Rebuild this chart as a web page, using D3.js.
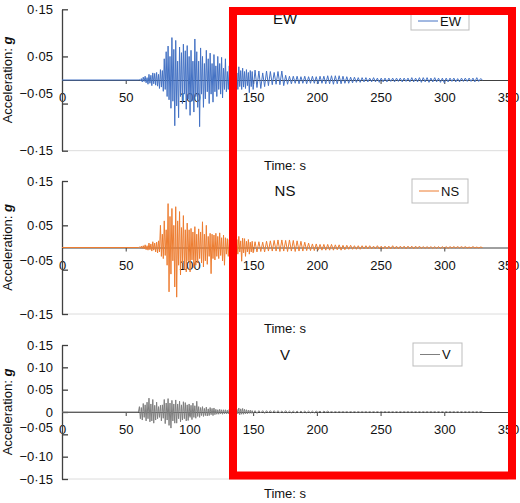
<!DOCTYPE html>
<html>
<head>
<meta charset="utf-8">
<script src="https://cdn.jsdelivr.net/npm/d3@7"></script>
<style>
    body { margin: 0; background: #fff; }
    svg { display: block; font-family: "Liberation Sans", Arial, sans-serif; }
</style>
</head>
<body>
<div id="chart"></div>
<script>
// digitised records (g). Flat before 60 s.
// strong-motion part: every 0.75 s from 60 s to 150 s
// coda: every 1.5 s from 151.5 s to 330 s
const STRONG_START = 60, STRONG_STEP = 0.75;
const CODA_START = 151.5, CODA_STEP = 1.5;

const ewStrong = [
    0, 0.001, -0.002, 0.003, -0.004, 0.006, -0.003, 0.008, -0.006, 0.005,            // 60 s
    -0.009, 0.012, -0.007, 0.010, -0.012, 0.015, -0.008, 0.014, -0.011, 0.016,       // 67.5 s
    -0.013, 0.012, -0.018, 0.022, -0.015, 0.020, -0.024, 0.045, -0.020, 0.060,       // 75 s
    -0.035, 0.072, -0.042, 0.050, -0.060, 0.090, -0.045, 0.065, -0.097, 0.084,       // 82.5 s
    -0.055, 0.040, -0.080, 0.070, -0.035, 0.058, -0.050, 0.076, -0.030, 0.062,       // 90 s
    -0.062, 0.073, -0.040, 0.050, -0.075, 0.063, -0.045, 0.040, -0.068, 0.087,       // 97.5 s
    -0.035, 0.060, -0.058, 0.040, -0.099, 0.068, -0.030, 0.050, -0.058, 0.035,       // 105 s
    -0.040, 0.063, -0.025, 0.045, -0.050, 0.057, -0.030, 0.035, -0.047, 0.054,       // 112.5 s
    -0.025, 0.030, -0.035, 0.050, -0.020, 0.035, -0.030, 0.048, -0.038, 0.025,       // 120 s
    -0.020, 0.045, -0.025, 0.018, -0.020, 0.030, -0.015, 0.024, -0.028, 0.020,       // 127.5 s
    -0.018, 0.034, -0.022, 0.015, -0.020, 0.028, -0.014, 0.020, -0.020, 0.025,       // 135 s
    -0.015, 0.018, -0.018, 0.022, -0.012, 0.016, -0.027, 0.020, -0.014, 0.018,       // 142.5 s
    -0.020
];
const ewCoda = [
    0.021, -0.016, 0.019, -0.018, 0.015, -0.014, 0.019, -0.012, 0.018,                // 151.5 s
    -0.010, 0.016, -0.009, 0.018, -0.010, 0.019, -0.012, 0.010, -0.009, 0.008,       // 165 s
    -0.008, 0.008, -0.007, 0.008, -0.008, 0.007, -0.007, 0.008, -0.008, 0.007,       // 180 s
    -0.007, 0.008, -0.007, 0.007, -0.008, 0.008, -0.007, 0.008, -0.008, 0.009,       // 195 s
    -0.008, 0.009, -0.009, 0.009, -0.008, 0.009, -0.008, 0.008, -0.007, 0.007,       // 210 s
    -0.007, 0.006, -0.006, 0.006, -0.005, 0.005, -0.005, 0.005, -0.004, 0.005,       // 225 s
    -0.004, 0.004, -0.004, 0.005, -0.004, 0.004, -0.005, 0.004, -0.004, 0.004,       // 240 s
    -0.004, 0.004, -0.003, 0.004, -0.004, 0.004, -0.003, 0.004, -0.004, 0.004,       // 255 s
    -0.003, 0.004, -0.004, 0.005, -0.004, 0.004, -0.004, 0.005, -0.005, 0.005,       // 270 s
    -0.004, 0.005, -0.005, 0.004, -0.004, 0.005, -0.004, 0.004, -0.005, 0.004,       // 285 s
    -0.006, 0.004, -0.004, 0.004, -0.003, 0.004, -0.004, 0.003, -0.004, 0.004,       // 300 s
    -0.003, 0.004, -0.003, 0.004, -0.003, 0.004, -0.004, 0.005, -0.003, 0.003,       // 315 s
    0
];

const nsStrong = [
    0, 0.001, -0.001, 0.003, -0.002, 0.004, -0.003, 0.006, -0.005, 0.004,
    -0.006, 0.010, -0.005, 0.008, -0.008, 0.013, -0.006, 0.010, -0.010, 0.012,
    -0.012, 0.015, -0.010, 0.050, -0.020, 0.030, -0.025, 0.060, -0.018, 0.040,
    -0.040, 0.099, -0.100, 0.070, -0.060, 0.088, -0.030, 0.050, -0.089, 0.092,
    -0.112, 0.060, -0.040, 0.081, -0.062, 0.045, -0.035, 0.072, -0.050, 0.040,
    -0.055, 0.055, -0.030, 0.040, -0.055, 0.043, -0.028, 0.035, -0.045, 0.047,
    -0.040, 0.030, -0.035, 0.042, -0.025, 0.035, -0.035, 0.058, -0.044, 0.030,
    -0.030, 0.050, -0.038, 0.025, -0.020, 0.032, -0.059, 0.030, -0.025, 0.028,
    -0.028, 0.032, -0.020, 0.025, -0.025, 0.033, -0.018, 0.022, -0.030, 0.028,
    -0.040, 0.022, -0.015, 0.020, -0.020, 0.018, -0.012, 0.020, -0.018, 0.015,
    -0.015, 0.022, -0.012, 0.018, -0.015, 0.025, -0.010, 0.015, -0.031, 0.021,
    -0.012, 0.020, -0.020, 0.014, -0.010, 0.018, -0.015, 0.012, -0.010, 0.014,
    -0.012
];
const nsCoda = [
    0.013, -0.010, 0.013, -0.009, 0.012, -0.010, 0.014, -0.008, 0.015,
    -0.008, 0.016, -0.008, 0.017, -0.009, 0.017, -0.008, 0.016, -0.009, 0.017,
    -0.008, 0.016, -0.009, 0.015, -0.008, 0.014, -0.008, 0.012, -0.007, 0.010,
    -0.007, 0.008, -0.007, 0.008, -0.006, 0.007, -0.006, 0.007, -0.006, 0.007,
    -0.006, 0.007, -0.006, 0.006, -0.005, 0.006, -0.006, 0.005, -0.005, 0.005,
    -0.004, 0.005, -0.004, 0.004, -0.004, 0.004, -0.004, 0.004, -0.003, 0.004,
    -0.003, 0.004, -0.003, 0.003, -0.003, 0.004, -0.003, 0.003, -0.003, 0.003,
    -0.003, 0.003, -0.003, 0.004, -0.003, 0.003, -0.003, 0.003, -0.002, 0.003,
    -0.003, 0.003, -0.002, 0.003, -0.003, 0.003, -0.002, 0.003, -0.002, 0.002,
    -0.002, 0.002, -0.002, 0.002, -0.002, 0.002, -0.002, 0.002, -0.002, 0.002,
    -0.002, 0.002, -0.002, 0.002, -0.001, 0.002, -0.001, 0.002, -0.001, 0.002,
    -0.001, 0.002, -0.001, 0.001, -0.001, 0.002, -0.001, 0.001, -0.001, 0.001,
    0
];

const vStrong = [
    0, 0.012, -0.015, 0.010, -0.018, 0.019, -0.012, 0.016, -0.020, 0.022,
    -0.015, 0.031, -0.022, 0.018, -0.020, 0.028, -0.025, 0.015, -0.018, 0.022,
    -0.015, 0.012, -0.012, 0.015, -0.020, 0.016, -0.014, 0.028, -0.026, 0.020,
    -0.018, 0.030, -0.030, 0.020, -0.036, 0.026, -0.020, 0.018, -0.025, 0.027,
    -0.025, 0.018, -0.015, 0.024, -0.022, 0.016, -0.018, 0.023, -0.015, 0.021,
    -0.020, 0.016, -0.019, 0.018, -0.012, 0.015, -0.017, 0.020, -0.012, 0.014,
    -0.014, 0.024, -0.010, 0.012, -0.012, 0.010, -0.008, 0.012, -0.010, 0.008,
    -0.008, 0.011, -0.009, 0.007, -0.008, 0.010, -0.006, 0.008, -0.008, 0.009,
    -0.006, 0.006, -0.005, 0.005, -0.005, 0.006, -0.004, 0.005, -0.005, 0.005,
    -0.004, 0.005, -0.004, 0.004, -0.004, 0.006, -0.003, 0.004, -0.004, 0.005,
    -0.004, 0.008, -0.005, 0.006, -0.004, 0.009, -0.006, 0.007, -0.005, 0.008,
    -0.005, 0.006, -0.004, 0.005, -0.004, 0.004, -0.003, 0.004, -0.003, 0.003,
    -0.003
];
const vCoda = [
    0.003, -0.003, 0.003, -0.002, 0.003, -0.003, 0.003, -0.002, 0.003,
    -0.002, 0.003, -0.002, 0.003, -0.002, 0.002, -0.002, 0.003, -0.002, 0.002,
    -0.002, 0.002, -0.002, 0.002, -0.002, 0.002, -0.002, 0.002, -0.002, 0.002,
    -0.002, 0.002, -0.002, 0.002, -0.001, 0.002, -0.002, 0.002, -0.001, 0.002,
    -0.001, 0.001, -0.001, 0.001, -0.001, 0.001, -0.001, 0.001, -0.001, 0.001,
    -0.001, 0.001, -0.001, 0.001, -0.001, 0.001, -0.001, 0.001, -0.001, 0.001,
    -0.001, 0.001, -0.001, 0.001, -0.001, 0.001, -0.001, 0.001, -0.001, 0.001,
    -0.001, 0.001, -0.001, 0.001, -0.001, 0.001, -0.001, 0.001, -0.001, 0.001,
    -0.001, 0.001, -0.001, 0.001, -0.001, 0.001, -0.001, 0.001, -0.001, 0.001,
    -0.001, 0.001, -0.001, 0.001, -0.001, 0.001, -0.001, 0.001, -0.001, 0.001,
    -0.001, 0.001, -0.001, 0.001, -0.001, 0.001, -0.001, 0.001, -0.001, 0.001,
    -0.001, 0.001, -0.001, 0.001, -0.001, 0.001, -0.001, 0.001, -0.001, 0.001,
    0
];

const components = ['EW', 'NS', 'V'];
const xTicks = [0, 50, 100, 150, 200, 250, 300, 350];
const yTicksCoarse = [0.15, 0.05, -0.05, -0.15];
const yTicksFine = [0.15, 0.10, 0.05, 0, -0.05, -0.10, -0.15];

const W = 520, H = 503;
const X_DOMAIN = [0, 350];
const Y_DOMAIN = [-0.15, 0.15];

function fmtAcc(d) {
    if (d === 0) return '0';
    return (d < 0 ? '\u2212' : '') + Math.abs(d).toFixed(2).replace('.', '\u00b7');
}

function toPoints(strong, coda) {
    const pts = [{ t: 0, a: 0 }];
    strong.forEach((a, i) => pts.push({ t: STRONG_START + i * STRONG_STEP, a }));
    coda.forEach((a, i) => pts.push({ t: CODA_START + i * CODA_STEP, a }));
    return pts;
}

class AccelPanel {
    constructor(svg, opts) {
        this.svg = svg;
        this.opts = opts;
        this.x = d3.scaleLinear().domain(X_DOMAIN).range([62, 508]);
        this.y = d3.scaleLinear().domain(Y_DOMAIN).range([opts.bottom, opts.top]);
    }

    draw() {
        const o = this.opts, x = this.x, y = this.y;
        const g = this.svg.append('g');

        // faint bottom edge of the plot area
        g.append('line')
            .attr('x1', x(0)).attr('x2', x(350))
            .attr('y1', y(-0.15)).attr('y2', y(-0.15))
            .style('stroke', '#dcdcdc');

        // x axis sits on zero
        const xAxis = g.append('g')
            .attr('transform', `translate(0, ${y(0)})`)
            .call(d3.axisBottom(x).tickValues(xTicks).tickSize(4).tickSizeOuter(0).tickPadding(9))
            .style('font-size', '13px');
        xAxis.select('.domain').style('stroke', '#404040');
        xAxis.selectAll('.tick line').style('stroke', '#404040');
        xAxis.selectAll('text').style('fill', '#111').style('font-family', 'inherit');

        // y axis, ticks pointing inside
        const yAxis = g.append('g')
            .attr('transform', `translate(${x(0)}, 0)`)
            .call(d3.axisLeft(y).tickValues(o.yTicks).tickFormat(fmtAcc)
                .tickSizeInner(-6).tickSizeOuter(0).tickPadding(9))
            .style('font-size', '13px');
        yAxis.select('.domain').style('stroke', '#404040').style('stroke-width', 1.3);
        yAxis.selectAll('.tick line').style('stroke', '#404040').style('stroke-width', 1.3);
        yAxis.selectAll('text').style('fill', '#111').style('font-family', 'inherit');
        // the -0.05 label is lifted clear of the time labels
        yAxis.selectAll('.tick').filter(d => Math.abs(d + 0.05) < 1e-9)
            .select('text').attr('y', o.liftNeg);

        // signal
        const line = d3.line().x(d => x(d.t)).y(d => y(d.a));
        g.append('path')
            .datum(toPoints(o.strong, o.coda))
            .attr('d', line)
            .style('fill', 'none')
            .style('stroke', o.color)
            .style('stroke-width', 1);

        // title
        g.append('text')
            .attr('x', (x(0) + x(350)) / 2)
            .attr('y', o.top + 14.5)
            .attr('text-anchor', 'middle')
            .style('font-size', '15px')
            .style('fill', '#111')
            .text(o.name);

        // legend
        const lg = o.legend;
        g.append('rect')
            .attr('x', lg.x).attr('y', lg.y)
            .attr('width', lg.w).attr('height', lg.h)
            .style('fill', '#fff')
            .style('stroke', '#bdbdbd');
        const cy = lg.y + lg.h / 2;
        g.append('line')
            .attr('x1', lg.x + 7).attr('x2', lg.x + 27)
            .attr('y1', cy).attr('y2', cy)
            .style('stroke', o.color);
        g.append('text')
            .attr('x', lg.x + 29)
            .attr('y', cy + 4.5)
            .style('font-size', '13px')
            .style('fill', '#111')
            .text(o.name);

        // axis titles
        g.append('text')
            .attr('x', (x(0) + x(350)) / 2)
            .attr('y', o.bottom + 19)
            .attr('text-anchor', 'middle')
            .style('font-size', '13px')
            .style('fill', '#111')
            .text('Time: s');

        const yl = g.append('text')
            .attr('transform', `translate(12, ${(o.top + o.bottom) / 2}) rotate(-90)`)
            .attr('text-anchor', 'middle')
            .style('font-size', '13px')
            .style('fill', '#111');
        yl.append('tspan').text('Acceleration: ');
        yl.append('tspan').style('font-weight', 'bold').style('font-style', 'italic').text('g');
    }
}

const svg = d3.select('#chart')
    .append('svg')
    .attr('width', W)
    .attr('height', H);

const panels = [
    { name: components[0], strong: ewStrong, coda: ewCoda, color: '#4472c4', yTicks: yTicksCoarse,
      top: 9.3, bottom: 150.7, liftNeg: -10, legend: { x: 411, y: 12, w: 58, h: 18 } },
    { name: components[1], strong: nsStrong, coda: nsCoda, color: '#ed7d31', yTicks: yTicksCoarse,
      top: 181, bottom: 314, liftNeg: -9, legend: { x: 412, y: 179, w: 56, h: 24 } },
    { name: components[2], strong: vStrong, coda: vCoda, color: '#7f7f7f', yTicks: yTicksFine,
      top: 345, bottom: 479, liftNeg: -7, legend: { x: 413, y: 343, w: 49, h: 23 } }
];

panels.forEach(p => new AccelPanel(svg, p).draw());

// red highlight frame over the late part of the records
svg.append('rect')
    .attr('x', 233).attr('y', 11)
    .attr('width', 279).attr('height', 464.5)
    .style('fill', 'none')
    .style('stroke', '#ff0000')
    .style('stroke-width', 8);
</script>
</body>
</html>
